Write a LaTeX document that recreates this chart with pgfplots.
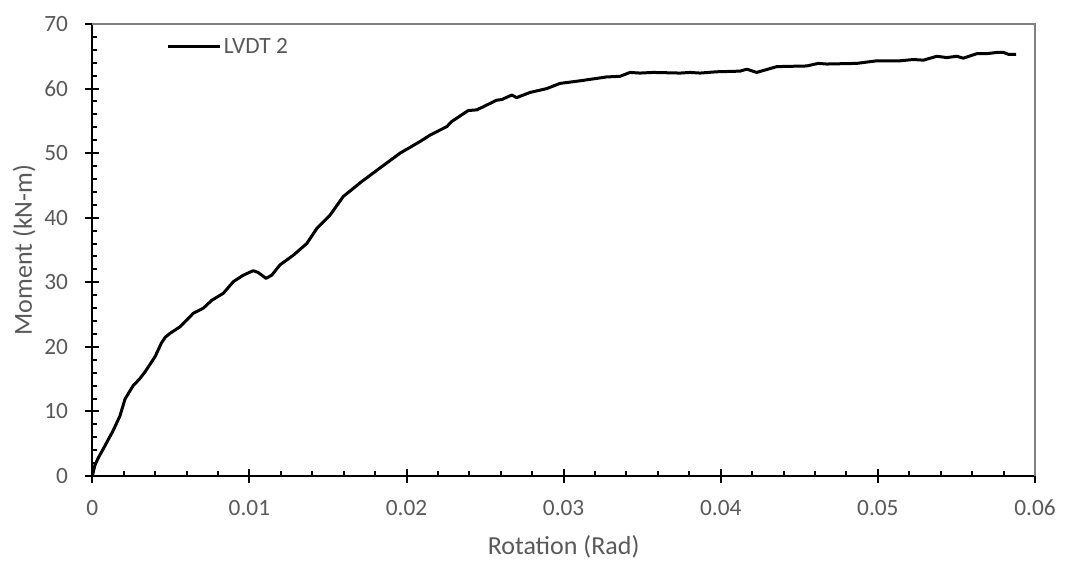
\documentclass[border=0pt]{standalone}
\usepackage{fontspec}
\setmainfont{Carlito}
\usepackage{pgfplots}
\pgfplotsset{compat=1.18}
\definecolor{txtgray}{HTML}{595959}
\definecolor{boxgray}{HTML}{808080}

\pgfplotstableread{
rot mom
0 0
0.00017 1.7
0.0004 2.9
0.0007 4.2
0.00134 7.1
0.00176 9.3
0.00208 11.9
0.0026 14.0
0.0030 15.0
0.00335 16.1
0.0040 18.5
0.0044 20.6
0.00465 21.5
0.00495 22.1
0.00558 23.1
0.00643 25.2
0.00707 26.0
0.0076 27.2
0.00834 28.3
0.00898 30.1
0.00961 31.1
0.01025 31.8
0.01057 31.5
0.01106 30.6
0.01142 31.1
0.01195 32.7
0.0128 34.2
0.01365 36.0
0.01428 38.3
0.01513 40.4
0.01598 43.3
0.01715 45.6
0.01831 47.7
0.01959 50.0
0.02086 51.8
0.0215 52.8
0.02256 54.1
0.02288 54.9
0.02393 56.6
0.02447 56.7
0.02574 58.2
0.02606 58.3
0.0267 59.0
0.02701 58.6
0.02786 59.4
0.02893 60.0
0.02977 60.8
0.03104 61.2
0.03274 61.8
0.03359 61.9
0.03423 62.5
0.03486 62.4
0.03571 62.5
0.03741 62.4
0.03805 62.5
0.03869 62.4
0.03975 62.6
0.04123 62.7
0.04166 63.0
0.04229 62.5
0.04357 63.4
0.04547 63.5
0.04621 63.9
0.04675 63.8
0.04866 63.9
0.04993 64.3
0.05141 64.3
0.05226 64.5
0.0529 64.4
0.05375 65.0
0.05439 64.8
0.05503 65.0
0.05544 64.7
0.0563 65.4
0.05693 65.4
0.05757 65.6
0.05799 65.6
0.05831 65.3
0.0588 65.3
}\lvdt

\begin{document}
\begin{tikzpicture}
\path[use as bounding box] (-69.225pt,-63pt) rectangle (730.275pt,357pt);
\begin{axis}[
  at={(0,0)}, anchor=origin,
  scale only axis,
  width=707pt, height=339pt,
  xmin=0, xmax=0.06, ymin=0, ymax=70,
  axis lines=left,
  axis line style={-, line width=1.5pt, black},
  clip=false,
  scaled x ticks=false, scaled y ticks=false,
  xtick={0,0.01,0.02,0.03,0.04,0.05,0.06},
  xticklabels={0,0.01,0.02,0.03,0.04,0.05,0.06},
  ytick={0,10,20,30,40,50,60,70},
  yticklabels={0,10,20,30,40,50,60,70},
  minor x tick num=4, minor y tick num=4,
  tick align=inside,
  major tick length=5.25pt,
  minor tick length=3.75pt,
  every tick/.style={black, line width=1.5pt},
  extra x ticks={0,0.01,0.02,0.03,0.04,0.05,0.06},
  extra y ticks={0,10,20,30,40,50,60,70},
  extra tick style={tick align=outside, major tick length=5.25pt,
    xticklabel={}, yticklabel={}},
  tick label style={font=\fontsize{17.5}{21}\selectfont, text=txtgray, inner sep=0pt},
  xticklabel style={anchor=base, yshift=-29.6pt},
  yticklabel style={anchor=east, xshift=-18pt},
  xlabel={Rotation (Rad)},
  ylabel={Moment (kN-m)},
  every axis x label/.style={at={(axis description cs:0.5,-0.157)}, anchor=center,
    font=\fontsize{19.5}{23}\selectfont, text=txtgray},
  every axis y label/.style={at={(axis description cs:-0.0724,0.5)}, anchor=center, rotate=90,
    font=\fontsize{19.5}{23}\selectfont, text=txtgray},
  legend style={at={(0.0782,0.9498)}, anchor=west, draw=none, fill=none,
    inner sep=0pt, font=\fontsize{17.5}{21}\selectfont, text=txtgray},
  legend image code/.code={\draw[#1] (0pt,0pt) -- (39pt,0pt);},
]
\draw[boxgray, line width=1pt] (rel axis cs:0,1) -- (rel axis cs:1,1) -- (rel axis cs:1,0);
\addplot[black, line width=2.25pt, line join=round] table[x=rot, y=mom] {\lvdt};
\addlegendentry{LVDT 2}
\end{axis}
\end{tikzpicture}
\end{document}
